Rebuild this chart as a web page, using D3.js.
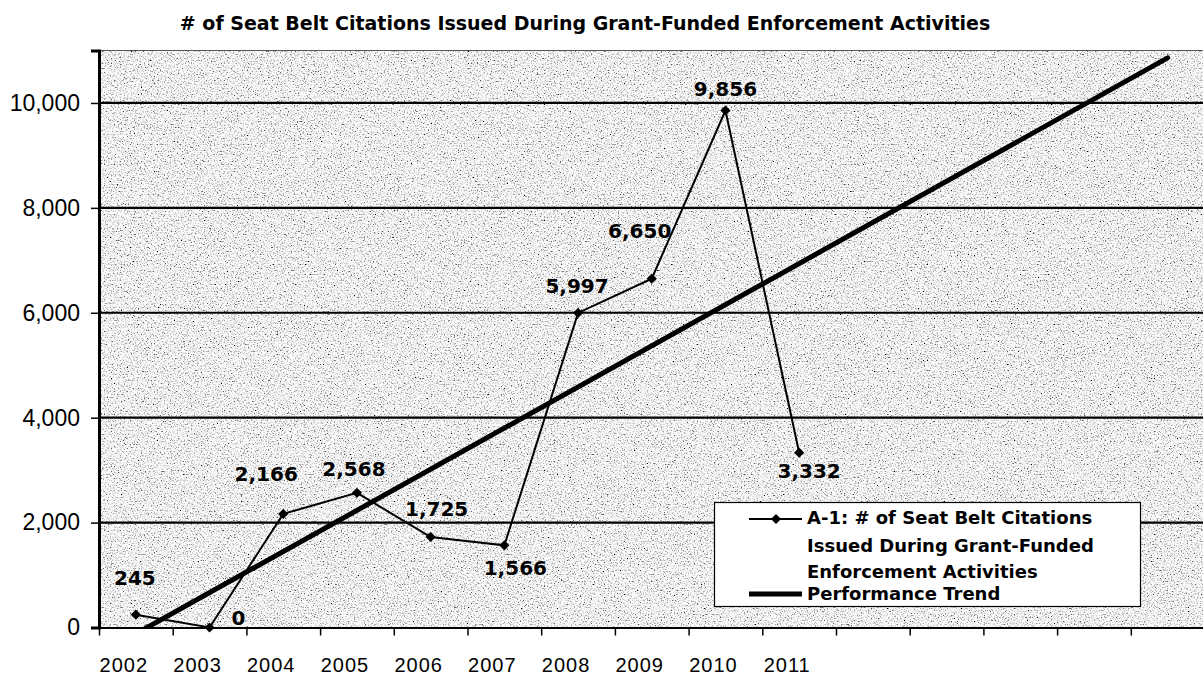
<!DOCTYPE html>
<html>
<head>
<meta charset="utf-8">
<script src="https://cdn.jsdelivr.net/npm/d3@7"></script>
<style>
  html, body { margin: 0; padding: 0; background: #ffffff; }
  svg { display: block; }
</style>
</head>
<body>
<svg id="chart" width="1203" height="680"></svg>
<script>
// ---- data ----
const chartTitle = "# of Seat Belt Citations Issued During Grant-Funded Enforcement Activities";
const years = ["2002", "2003", "2004", "2005", "2006", "2007", "2008", "2009", "2010", "2011"];
const citations = [245, 0, 2166, 2568, 1725, 1566, 5997, 6650, 9856, 3332];
const forecastSlots = 5;                 // empty category slots after 2011
const trendSlots = [0, 14];              // category slot of trend start / end
const trendValues = [-120, 10860];       // performance trend values at those slots
const yTickValues = [0, 2000, 4000, 6000, 8000, 10000];
const yMax = 11000;
const seriesName = ["A-1: # of Seat Belt Citations", "Issued During Grant-Funded", "Enforcement Activities"];
const trendName = "Performance Trend";

// ---- style / layout ----
const labelOffsets = [[-1, -37], [29, -10], [-17, -40], [-3, -24], [6, -28], [11, 22], [-1, -27], [-12, -48], [0, -22], [10, 18]];
const mLeft = 99, mTop = 50.5, mBottom = 627.5, step = 73.7;
const nSlots = years.length + forecastSlots;

const svg = d3.select("#chart");
const defs = svg.append("defs");

// stipple texture for the plot background
const f = defs.append("filter").attr("id", "stipple")
  .attr("x", 0).attr("y", 0).attr("width", 1).attr("height", 1)
  .attr("filterUnits", "objectBoundingBox");
f.append("feTurbulence").attr("type", "fractalNoise").attr("baseFrequency", 0.7)
  .attr("numOctaves", 2).attr("seed", 7).attr("result", "n");
f.append("feColorMatrix").attr("type", "matrix")
  .attr("values", "1 0 0 0 0  1 0 0 0 0  1 0 0 0 0  0 0 0 0 1").attr("result", "g");
const ct = f.append("feComponentTransfer");
["feFuncR", "feFuncG", "feFuncB"].forEach(fn =>
  ct.append(fn).attr("type", "discrete").attr("tableValues", "0 0 0.12 0.36 0.62 0.82 0.94 1 1 1 1 1"));

const clip = defs.append("clipPath").attr("id", "plotclip");

const x = d3.scaleLinear().domain([0, nSlots]).range([mLeft, mLeft + nSlots * step]);
const cx = i => x(i + 0.5);
const y = d3.scaleLinear().domain([0, yMax]).range([mBottom, mTop]);

clip.append("rect").attr("x", mLeft).attr("y", mTop).attr("width", 1203 - mLeft).attr("height", mBottom - mTop);

// background
svg.append("rect").attr("x", mLeft).attr("y", mTop)
  .attr("width", 1203 - mLeft).attr("height", mBottom - mTop)
  .attr("fill", "#d0d0d0").attr("filter", "url(#stipple)");

// top border
svg.append("line").attr("x1", mLeft).attr("x2", 1203).attr("y1", y(yMax)).attr("y2", y(yMax))
  .attr("stroke", "#555").attr("stroke-width", 1.2);

// gridlines
svg.append("g").selectAll("line").data(yTickValues.filter(d => d > 0)).join("line")
  .attr("x1", mLeft).attr("x2", 1203)
  .attr("y1", d => y(d)).attr("y2", d => y(d))
  .attr("stroke", "#000").attr("stroke-width", 2.2);

// title
svg.append("text").attr("x", 585).attr("y", 30).attr("text-anchor", "middle")
  .attr("font-family", "DejaVu Sans, sans-serif").attr("font-weight", "bold")
  .attr("font-size", 19).attr("fill", "#000").text(chartTitle);

// y axis
const yAxis = svg.append("g").attr("transform", `translate(${mLeft},0)`)
  .call(d3.axisLeft(y).tickValues(yTickValues).tickFormat(d3.format(",")).tickSize(8).tickPadding(11));
yAxis.select(".domain").attr("stroke", "#000").attr("stroke-width", 3);
yAxis.selectAll(".tick line").attr("stroke", "#000").attr("stroke-width", 1.5);
yAxis.selectAll(".tick text").attr("font-family", "Liberation Sans, Arial, sans-serif")
  .attr("font-size", 23).attr("fill", "#000");

// x axis
const xAxis = svg.append("g").attr("transform", `translate(0,${mBottom})`)
  .call(d3.axisBottom(x).tickValues(d3.range(nSlots + 1)).tickFormat("").tickSizeInner(8).tickSizeOuter(0));
xAxis.select(".domain").attr("stroke", "#000").attr("stroke-width", 2.2);
xAxis.selectAll(".tick line").attr("stroke", "#000").attr("stroke-width", 1.5);

svg.append("g").selectAll("text").data(years).join("text")
  .attr("x", (d, i) => cx(i) - 12).attr("y", 672)
  .attr("text-anchor", "middle")
  .attr("font-family", "Liberation Sans, Arial, sans-serif").attr("font-size", 20)
  .attr("letter-spacing", 1).attr("fill", "#000").text(d => d);

// trend line
const plot = svg.append("g").attr("clip-path", "url(#plotclip)");
plot.append("path")
  .datum(trendSlots.map((s, i) => [cx(s), y(trendValues[i])]))
  .attr("d", d3.line())
  .attr("fill", "none").attr("stroke", "#000").attr("stroke-width", 5).attr("stroke-linecap", "round");

// data line
const line = d3.line().x((d, i) => cx(i)).y(d => y(d));
svg.append("path").datum(citations).attr("d", line)
  .attr("fill", "none").attr("stroke", "#000").attr("stroke-width", 2);

const diamond = d3.symbol().type(d3.symbolSquare).size(52);
svg.append("g").selectAll("path").data(citations).join("path")
  .attr("d", diamond)
  .attr("transform", (d, i) => `translate(${cx(i)},${y(d)}) rotate(45)`)
  .attr("fill", "#000");

// data labels
svg.append("g").selectAll("text").data(citations).join("text")
  .attr("x", (d, i) => cx(i) + labelOffsets[i][0])
  .attr("y", (d, i) => y(d) + labelOffsets[i][1])
  .attr("dy", "0.36em")
  .attr("text-anchor", "middle")
  .attr("font-family", "DejaVu Sans, sans-serif").attr("font-weight", "bold")
  .attr("font-size", 20).attr("fill", "#000")
  .text(d => d3.format(",")(d));

// legend
const lg = svg.append("g");
lg.append("rect").attr("x", 714.5).attr("y", 502.5).attr("width", 426).attr("height", 104)
  .attr("fill", "#fff").attr("stroke", "#000").attr("stroke-width", 1.2);
lg.append("line").attr("x1", 749).attr("x2", 802).attr("y1", 519).attr("y2", 519)
  .attr("stroke", "#000").attr("stroke-width", 2);
lg.append("path").attr("d", diamond).attr("transform", "translate(776,519) rotate(45)").attr("fill", "#000");
lg.append("line").attr("x1", 749).attr("x2", 802).attr("y1", 594).attr("y2", 594)
  .attr("stroke", "#000").attr("stroke-width", 5);
const legendLineY = [518, 546, 572];
lg.selectAll("text.s").data(seriesName).join("text").attr("class", "s")
  .attr("x", 807).attr("y", (d, i) => legendLineY[i]).attr("dy", "0.36em")
  .attr("font-family", "DejaVu Sans, sans-serif").attr("font-weight", "bold")
  .attr("font-size", 18).attr("fill", "#000").text(d => d);
lg.append("text").attr("x", 807).attr("y", 594).attr("dy", "0.36em")
  .attr("font-family", "DejaVu Sans, sans-serif").attr("font-weight", "bold")
  .attr("font-size", 18).attr("fill", "#000").text(trendName);
</script>
</body>
</html>
